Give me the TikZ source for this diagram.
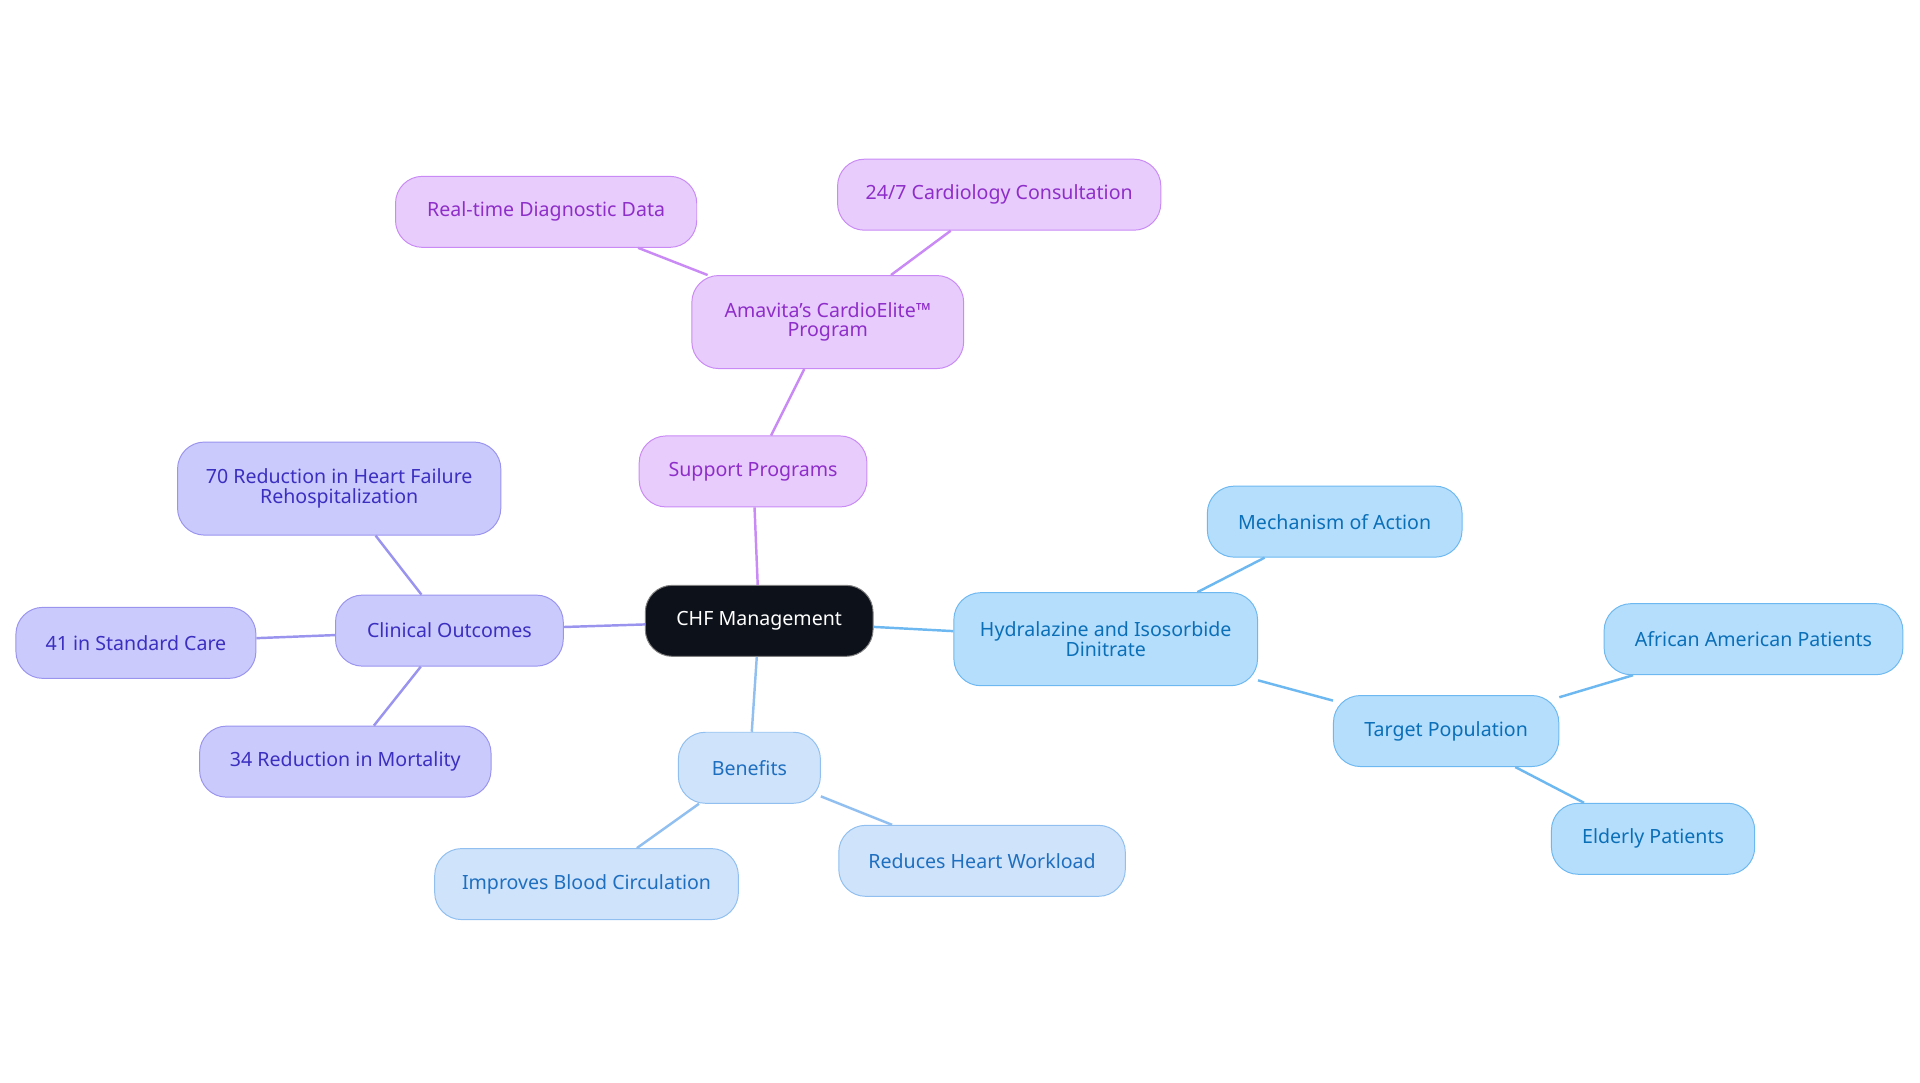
\documentclass[tikz,border=0pt]{standalone}
\usepackage{fontspec}
\setmainfont{Noto Sans}
\begin{document}
\begin{tikzpicture}[x=1pt,y=-1pt,
  base/.style={rounded corners=22pt,minimum height=58pt,align=center,font=\fontsize{16}{16}\selectfont,line width=0.8pt,inner sep=0pt},
  pur/.style={base,fill=purple1,draw=purple2,text=purple3},
  vio/.style={base,fill=violet1,draw=violet2,text=violet3},
  lbl/.style={base,fill=lblue1,draw=lblue2,text=lblue3},
  sky/.style={base,fill=sky1,draw=sky2,text=sky3},
  e/.style={line width=2pt}]
\definecolor{purple1}{HTML}{E8CCFC}\definecolor{purple2}{HTML}{C98AF5}\definecolor{purple3}{HTML}{8E2EC9}
\definecolor{violet1}{HTML}{CBCAFC}\definecolor{violet2}{HTML}{9A94EF}\definecolor{violet3}{HTML}{3B2FC0}
\definecolor{lblue1}{HTML}{CFE3FB}\definecolor{lblue2}{HTML}{90BFF0}\definecolor{lblue3}{HTML}{1F6FC0}
\definecolor{sky1}{HTML}{B5DEFC}\definecolor{sky2}{HTML}{6DB8F0}\definecolor{sky3}{HTML}{0B6FB8}
\useasboundingbox (0,0) rectangle (1568,884);
\node[base,fill={rgb,255:red,13;green,17;blue,26},text=white,draw=gray,minimum width=186pt] (chf) at (620,507) {CHF Management};
\node[pur,minimum width=186pt] (sp) at (615,385) {Support Programs};
\node[pur,minimum width=222pt,minimum height=76pt] (am) at (676,263) {Amavita's CardioElite™\\Program};
\node[pur,minimum width=246pt] (rt) at (446,173) {Real-time Diagnostic Data};
\node[pur,minimum width=264pt] (cc) at (816,159) {24/7 Cardiology Consultation};
\node[vio,minimum width=186pt] (co) at (367,515) {Clinical Outcomes};
\node[vio,minimum width=264pt,minimum height=76pt] (r70) at (277,399) {70 Reduction in Heart Failure\\Rehospitalization};
\node[vio,minimum width=196pt] (s41) at (111,525) {41 in Standard Care};
\node[vio,minimum width=238pt] (m34) at (282,622) {34 Reduction in Mortality};
\node[lbl,minimum width=116pt] (be) at (612,627) {Benefits};
\node[lbl,minimum width=248pt] (ib) at (479,722) {Improves Blood Circulation};
\node[lbl,minimum width=234pt] (rh) at (802,703) {Reduces Heart Workload};
\node[sky,minimum width=248pt,minimum height=76pt] (hy) at (903,522) {Hydralazine and Isosorbide\\Dinitrate};
\node[sky,minimum width=208pt] (mo) at (1090,426) {Mechanism of Action};
\node[sky,minimum width=184pt] (tp) at (1181,597) {Target Population};
\node[sky,minimum width=244pt] (aa) at (1432,522) {African American Patients};
\node[sky,minimum width=166pt] (el) at (1350,685) {Elderly Patients};
\begin{scope}[on background layer/.style={}]
\end{scope}
\begin{pgfinterruptboundingbox}\end{pgfinterruptboundingbox}
\draw[e,purple2] (chf) -- (sp); \draw[e,purple2] (sp) -- (am);
\draw[e,purple2] (am) -- (rt); \draw[e,purple2] (am) -- (cc);
\draw[e,violet2] (chf) -- (co); \draw[e,violet2] (co) -- (r70);
\draw[e,violet2] (co) -- (s41); \draw[e,violet2] (co) -- (m34);
\draw[e,lblue2] (chf) -- (be); \draw[e,lblue2] (be) -- (ib); \draw[e,lblue2] (be) -- (rh);
\draw[e,sky2] (chf) -- (hy); \draw[e,sky2] (hy) -- (mo); \draw[e,sky2] (hy) -- (tp);
\draw[e,sky2] (tp) -- (aa); \draw[e,sky2] (tp) -- (el);
\end{tikzpicture}
\end{document}
